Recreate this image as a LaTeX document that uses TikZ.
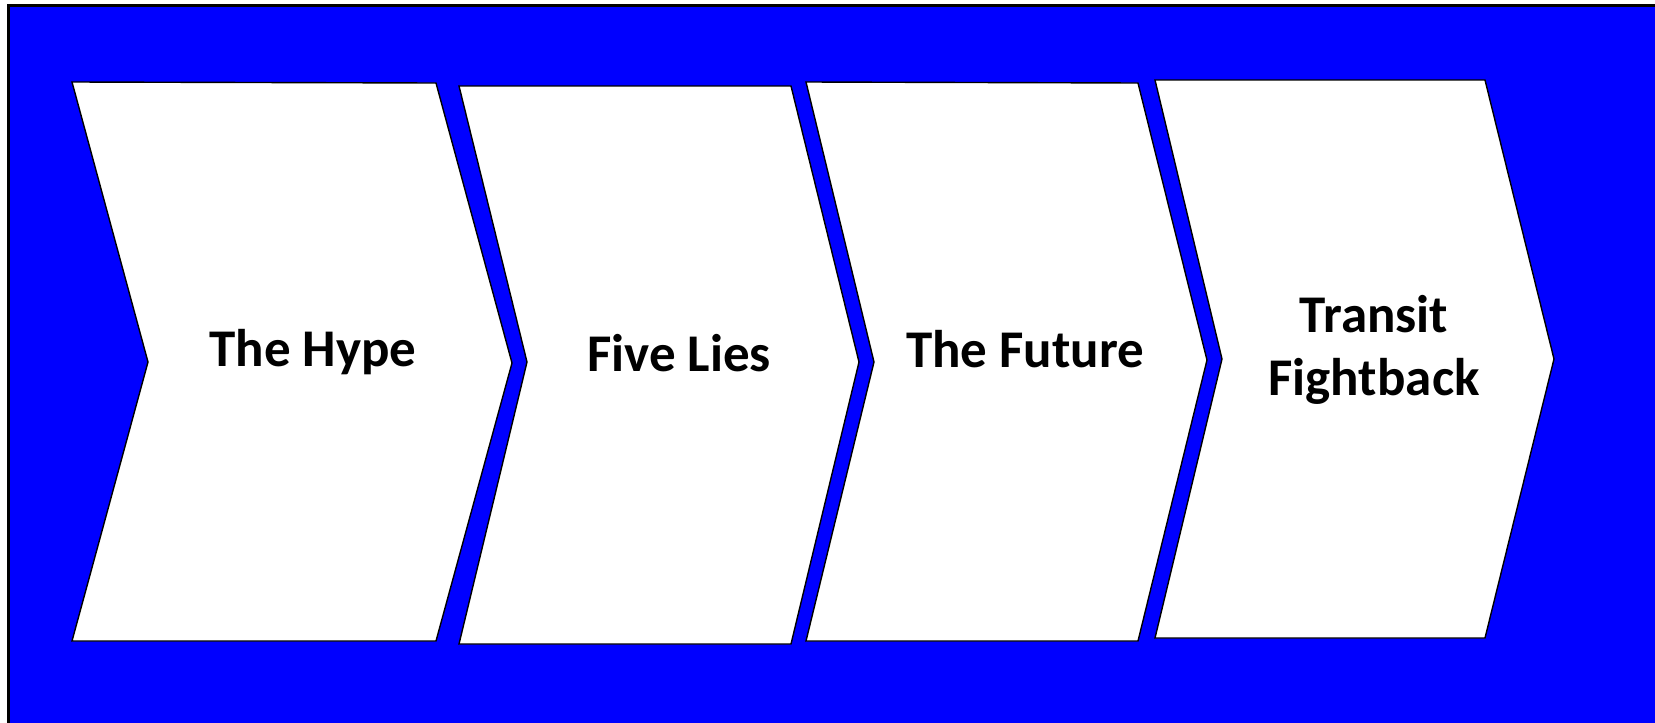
\documentclass[tikz,border=0pt]{standalone}
\usepackage{fontspec}
\setmainfont{Carlito}
\usepackage{xcolor}
\usepackage{tikz}
\usetikzlibrary{positioning}
\definecolor{bgblue}{RGB}{0,0,255}
\tikzset{chevron/.style={draw=black,line width=1.4pt,fill=white,line join=miter},
  label/.style={font=\fontsize{53}{64}\selectfont\bfseries,align=center,anchor=base,inner sep=0pt}}

\begin{document}
\begin{tikzpicture}[x=1pt,y=-1pt]
\useasboundingbox (0,0) rectangle (1655,723);
\fill[bgblue](8.5,5.5) rectangle (1665,733);
\draw[line width=3pt](8.5,733)--(8.5,5.5)--(1665,5.5);
% the four steps
\draw[chevron](72,82)--(436,83)--(512,363)--(436,641)--(72,641)--(148,362)--cycle;
\draw[chevron](459,86)--(791,86)--(859,362)--(791,644)--(459,644)--(527,362)--cycle;
\draw[chevron](806,82)--(1138,83)--(1207,360)--(1138,641)--(806,641)--(874,362)--cycle;
\draw[chevron](1155,80)--(1485,80)--(1554,359)--(1485,638)--(1155,638)--(1222,359)--cycle;
\node[label] (hype) at (313,366) {The Hype};
\node[label] (lies) at (679,371) {Five Lies};
\node[label] (future) at (1025,367) {The Future};
\node[label,anchor=base] (transit) at (1374,332) {Transit};
\node[label,below=0pt of transit.base,anchor=base,yshift=-63pt] (fight) {Fightback};
\end{tikzpicture}
\end{document}
